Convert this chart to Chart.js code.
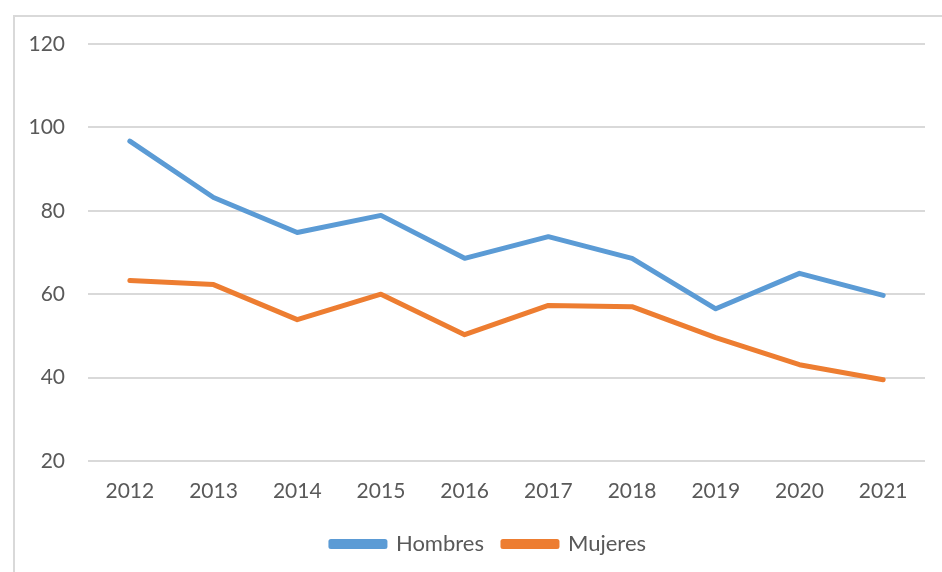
<!DOCTYPE html>
<html>
<head>
<meta charset="utf-8">
<script src="https://cdn.jsdelivr.net/npm/chart.js@4"></script>
<style>
html,body{margin:0;padding:0;background:#fff;overflow:hidden;}
#frame{position:absolute;left:13px;top:15px;width:1000px;height:1000px;border:2px solid #d9d9d9;box-sizing:border-box;}
#wrap{position:absolute;left:0;top:0;width:942px;height:572px;}
</style>
</head>
<body>
<div id="frame"></div>
<div id="wrap"><canvas id="c" width="942" height="572"></canvas></div>
<script>
const categories = ['2012','2013','2014','2015','2016','2017','2018','2019','2020','2021'];
const hombres = [96.7, 83.2, 74.8, 78.9, 68.6, 73.8, 68.6, 56.5, 65.0, 59.7];
const mujeres = [63.3, 62.3, 53.9, 60.0, 50.3, 57.3, 57.0, 49.6, 43.1, 39.5];
const yTicks = [20, 40, 60, 80, 100, 120];

const axisFont = {family: 'Lato, "Open Sans", sans-serif', size: 21};
const legendFont = {family: 'Lato, "Open Sans", sans-serif', size: 22};

const shiftLegend = {
  id: 'shiftLegend',
  afterLayout(chart) {
    if (chart.legend) { chart.legend.left += 26; chart.legend.right += 26; }
  }
};

new Chart(document.getElementById('c'), {
  type: 'line',
  data: {
    labels: categories,
    datasets: [
      {label: 'Hombres', data: hombres, borderColor: '#5B9BD5', backgroundColor: '#5B9BD5', borderWidth: 5, pointRadius: 0, tension: 0, borderCapStyle: 'round', borderJoinStyle: 'round'},
      {label: 'Mujeres', data: mujeres, borderColor: '#ED7D31', backgroundColor: '#ED7D31', borderWidth: 5, pointRadius: 0, tension: 0, borderCapStyle: 'round', borderJoinStyle: 'round'}
    ]
  },
  plugins: [shiftLegend],
  options: {
    responsive: false,
    animation: false,
    layout: {padding: {top: 44, right: 17, bottom: 7, left: 0}},
    plugins: {
      tooltip: {enabled: false},
      legend: {
        position: 'bottom',
        labels: {boxWidth: 54, boxHeight: 5, color: '#595959', font: legendFont, padding: 19}
      }
    },
    scales: {
      x: {
        offset: true,
        grid: {display: false, drawTicks: false},
        border: {display: false},
        ticks: {color: '#595959', font: axisFont, padding: 18, maxRotation: 0},
        afterFit: s => { s.height = 53; }
      },
      y: {
        min: 20, max: 120,
        afterBuildTicks: s => { s.ticks = yTicks.map(v => ({value: v})); },
        grid: {color: '#d9d9d9', lineWidth: 2, drawTicks: false},
        border: {display: false},
        ticks: {color: '#595959', font: axisFont, padding: 23},
        afterFit: s => { s.width = 88; }
      }
    }
  }
});
</script>
</body>
</html>
